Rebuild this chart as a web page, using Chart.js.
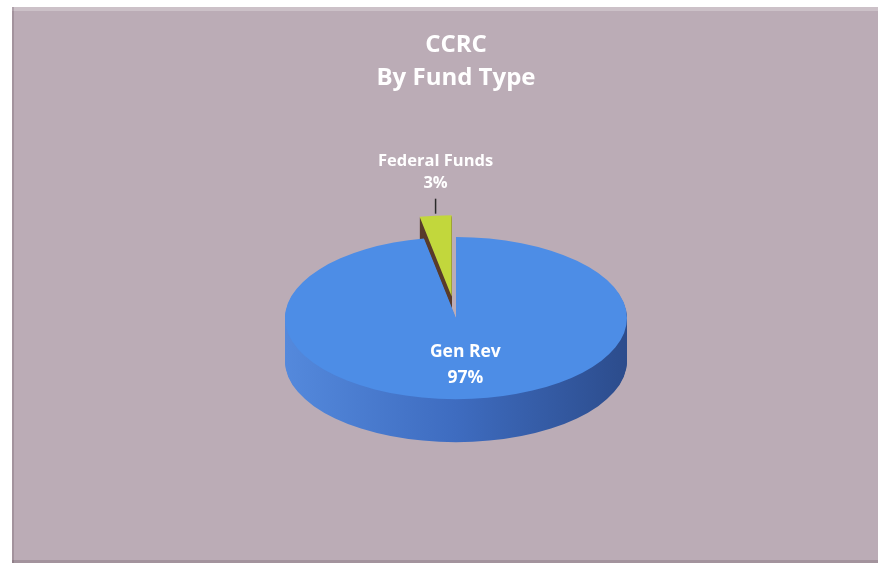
<!DOCTYPE html>
<html>
<head>
<meta charset="utf-8">
<script src="https://cdn.jsdelivr.net/npm/chart.js@4.4.1/dist/chart.umd.min.js"></script>
<style>
  html, body { margin: 0; padding: 0; background: #fff; overflow: hidden; }
  #wrap { position: absolute; left: 12px; top: 7px; }
</style>
</head>
<body>
<div id="wrap"><canvas id="fundChart" width="888" height="556"></canvas></div>
<script>
const fundLabels = ["Gen Rev", "Federal Funds"];
const fundShares = [97, 3];
const titleLines = ["CCRC", "By Fund Type"];

const topColors = ["#4d8de6", "#c2d73c"];
const sideColors = ["#3e6cc0", "#5a3c2c"];

// fake 3D: squash the pie, stack darker copies underneath, pull slices out
const pie3d = {
  id: "pie3d",
  beforeDraw(chart, args, opts) {
    const ctx = chart.ctx;
    ctx.save();
    ctx.fillStyle = opts.background;
    ctx.fillRect(0, 0, chart.width, chart.height);
    // light bevel on the top edge of the frame
    ctx.fillStyle = "rgba(255,255,255,0.25)";
    ctx.fillRect(0, 0, chart.width, 4);
    ctx.fillStyle = "rgba(90,70,85,0.25)";
    ctx.fillRect(0, 0, 2, chart.height);
    ctx.fillRect(0, chart.height - 3, chart.width, 3);
    ctx.restore();
  },
  beforeDatasetsDraw(chart, args, opts) {
    const ctx = chart.ctx;
    const arcs = chart.getDatasetMeta(0).data;
    const cx = arcs[0].x, cy = arcs[0].y;
    const k = opts.tilt;

    const place = (arc, i, drop) => {
      const mid = (arc.startAngle + arc.endAngle) / 2;
      const e = opts.explode[i] || 0;
      ctx.translate(0, drop);
      ctx.translate(cx, cy);
      ctx.scale(1, k);
      ctx.translate(-cx, -cy);
      ctx.translate(Math.cos(mid) * e, Math.sin(mid) * e);
    };

    const R = arcs[0].outerRadius;
    const sideFill = (i) => {
      if (i !== 0) return sideColors[i];
      const g = ctx.createLinearGradient(cx - R, 0, cx + R, 0);
      g.addColorStop(0, "#5489dc");
      g.addColorStop(0.5, "#3e6cc0");
      g.addColorStop(1, "#2c4c8c");
      return g;
    };

    // side walls
    for (let d = opts.depth; d > 0; d--) {
      arcs.forEach((arc, i) => {
        ctx.save();
        place(arc, i, d);
        ctx.beginPath();
        ctx.moveTo(arc.x, arc.y);
        ctx.arc(arc.x, arc.y, arc.outerRadius, arc.startAngle, arc.endAngle);
        ctx.closePath();
        ctx.fillStyle = sideFill(i);
        ctx.fill();
        ctx.restore();
      });
    }

    // top faces
    arcs.forEach((arc, i) => {
      ctx.save();
      place(arc, i, 0);
      arc.draw(ctx);
      ctx.restore();
    });

    // slice labels
    const total = fundShares.reduce((a, b) => a + b, 0);
    ctx.save();
    ctx.fillStyle = "#fff";
    ctx.textAlign = "center";
    ctx.textBaseline = "middle";
    arcs.forEach((arc, i) => {
      const mid = (arc.startAngle + arc.endAngle) / 2;
      const pct = Math.round(fundShares[i] / total * 100) + "%";
      if (opts.labelPos[i] === "inside") {
        const r = arc.outerRadius * 0.58;
        const x = cx + Math.cos(mid) * r;
        const y = cy + Math.sin(mid) * r * k;
        ctx.font = "bold 17.5px 'Open Sans'";
        ctx.fillText(fundLabels[i], x, y - 13);
        ctx.fillText(pct, x, y + 13);
      } else {
        const r = arc.outerRadius + (opts.explode[i] || 0);
        const x = cx + Math.cos(mid) * r;
        const y = cy + Math.sin(mid) * r * k;
        ctx.strokeStyle = "#2a2a2a";
        ctx.lineWidth = 1.5;
        ctx.beginPath();
        ctx.moveTo(x, y - 2);
        ctx.lineTo(x, y - 17);
        ctx.stroke();
        ctx.font = "bold 16.5px 'Open Sans'";
        ctx.fillText(fundLabels[i], x, y - 54);
        ctx.fillText(pct, x, y - 32);
      }
    });
    ctx.restore();
    return false;
  }
};

new Chart(document.getElementById("fundChart"), {
  type: "pie",
  data: {
    labels: fundLabels,
    datasets: [{
      data: fundShares,
      backgroundColor: topColors,
      borderWidth: 0,
      radius: 171
    }]
  },
  options: {
    responsive: false,
    animation: false,
    layout: { padding: { bottom: 22 } },
    plugins: {
      legend: { display: false },
      tooltip: { enabled: false },
      title: {
        display: true,
        text: titleLines,
        color: "#fff",
        font: { family: "'Open Sans'", size: 24, weight: "bold", lineHeight: 1.4 },
        padding: { top: 21, bottom: 0 }
      },
      pie3d: {
        background: "#bbacb6",
        tilt: 0.474,
        depth: 43,
        explode: [0, 46],
        labelPos: ["inside", "outside"]
      }
    }
  },
  plugins: [pie3d]
});
</script>
</body>
</html>
